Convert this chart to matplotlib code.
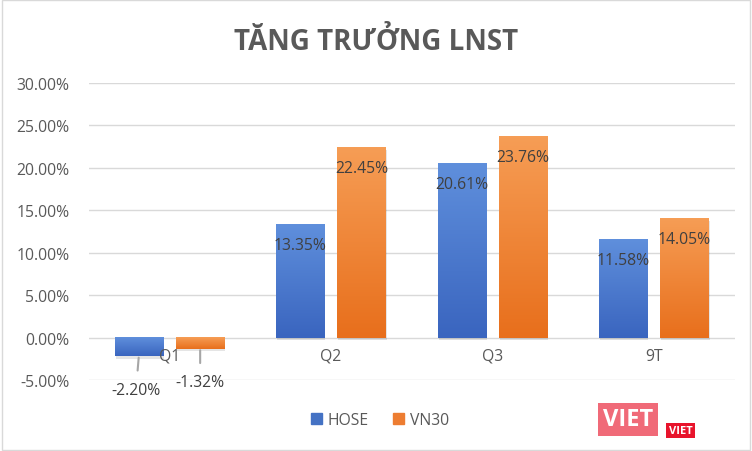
import numpy as np
import matplotlib; matplotlib.use("Agg"); import matplotlib.pyplot as plt
from matplotlib.patches import Patch, Rectangle

CATS = ["Q1", "Q2", "Q3", "9T"]
HOSE = [-2.20, 13.35, 20.61, 11.58]
VN30 = [-1.32, 22.45, 23.76, 14.05]
SERIES = ["HOSE", "VN30"]
YTICKS = [-5, 0, 5, 10, 15, 20, 25, 30]

GRAD = {"HOSE": ("#5f8fdc", "#3a65bf"), "VN30": ("#f69d55", "#e86f1c")}
LEG = {"HOSE": "#4472c4", "VN30": "#ed7d31"}
TXT = "#595959"
FS = 11.3
plt.rcParams["font.family"] = ["Open Sans", "DejaVu Sans"]

fig = plt.figure(figsize=(7.52, 4.52), dpi=100)
ax = fig.add_axes([0.118, 0.157, 0.859, 0.657])
ax.set_xlim(-0.5, 3.5); ax.set_ylim(-5, 30)
w, off = 0.30, 0.19

def grad_bar(xc, h, c_top, c_bot):
    x0, x1 = xc - w / 2, xc + w / 2
    y0, y1 = min(0, h), max(0, h)
    # soft shadow
    ax.add_patch(Rectangle((x0 + 0.006, y0 - 0.3), w, y1 - y0, color="#000000", alpha=0.10, lw=0, zorder=2))
    t = np.linspace(0, 1, 64)[:, None]
    a, b = np.array(matplotlib.colors.to_rgb(c_top)), np.array(matplotlib.colors.to_rgb(c_bot))
    img = (a[None, None, :] * (1 - t[..., None]) + b[None, None, :] * t[..., None]).repeat(2, axis=1)
    ax.imshow(img, extent=[x0, x1, y0, y1], aspect="auto", zorder=3, interpolation="bilinear")

for k, (name, vals) in enumerate(zip(SERIES, [HOSE, VN30])):
    for i, v in enumerate(vals):
        xc = i + (-off if k == 0 else off)
        grad_bar(xc, v, *GRAD[name])
        if v >= 0:
            ax.annotate(f"{v:.2f}%", (xc, v), xytext=(0, -15), textcoords="offset points",
                        ha="center", va="center", fontsize=FS, color="#404040", zorder=5)
        else:
            ax.annotate(f"{v:.2f}%", (xc, v), xytext=(-2 if k == 0 else 0, -24), textcoords="offset points",
                        ha="center", va="center", fontsize=FS, color="#404040", zorder=5,
                        arrowprops=dict(arrowstyle="-", color="#a6a6a6", lw=1.5, shrinkA=6, shrinkB=1),
                        annotation_clip=False)

ax.set_xlim(-0.5, 3.5); ax.set_ylim(-5, 30)
for y in YTICKS:
    ax.axhline(y, color="#d9d9d9", lw=1, zorder=1)
ax.set_yticks(YTICKS)
ax.set_yticklabels([f"{y:.2f}%" for y in YTICKS], fontsize=FS, color=TXT)
ax.tick_params(axis="y", length=0, pad=14)
ax.set_xticks([])
for i, c in enumerate(CATS):
    ax.annotate(c, (i, 0), xytext=(0, -13), textcoords="offset points", ha="center", va="center",
                fontsize=FS, color=TXT, zorder=6)
for s in ax.spines.values():
    s.set_visible(False)

fig.text(0.5, 0.905, "TĂNG TRƯỞNG LNST", ha="center", va="center", fontsize=20, fontweight="bold", color=TXT)
fig.legend(handles=[Patch(color=LEG[s], label=s) for s in SERIES], loc="center", bbox_to_anchor=(0.505, 0.069),
           ncol=2, frameon=False, fontsize=FS, handlelength=0.7, handleheight=0.7, handletextpad=0.4,
           columnspacing=1.5, labelcolor=TXT)
fig.text(0.835, 0.07, "VIET", ha="center", va="center", fontsize=17, fontweight="bold", color="white",
         bbox=dict(boxstyle="square,pad=0.2", fc="#f06a78", ec="none"))
fig.text(0.905, 0.045, "VIET", ha="center", va="center", fontsize=8, fontweight="bold", color="white",
         bbox=dict(boxstyle="square,pad=0.2", fc="#e8142c", ec="none"))
fig.patches.append(Rectangle((0.003, 0.003), 0.994, 0.994, transform=fig.transFigure, fill=False,
                             ec="#d9d9d9", lw=1))
fig.savefig("out.png", dpi=100)
